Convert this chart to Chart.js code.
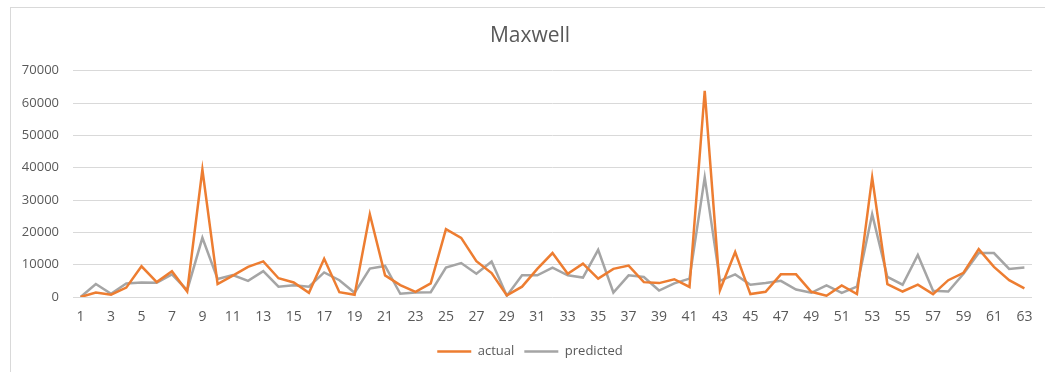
<!DOCTYPE html>
<html>
<head>
<meta charset="utf-8">
<script src="https://cdn.jsdelivr.net/npm/chart.js@4"></script>
<style>
  html, body { margin: 0; padding: 0; background: #fff; overflow: hidden; }
  #wrap { position: relative; width: 1045px; height: 372px; overflow: hidden; }
  #cadre { position: absolute; left: 10px; top: 7px; width: 1100px; height: 400px; border: 1px solid #d9d9d9; box-sizing: border-box; }
  #grafico { position: absolute; left: 0; top: 0; }
</style>
</head>
<body>
<div id="wrap">
  <div id="cadre"></div>
  <canvas id="grafico" width="1060" height="372"></canvas>
</div>
<script>
// categorias 1..63
var categorias = ['1','2','3','4','5','6','7','8','9','10','11','12','13','14','15','16','17','18','19','20','21',
    '22','23','24','25','26','27','28','29','30','31','32','33','34','35','36','37','38','39','40','41','42',
    '43','44','45','46','47','48','49','50','51','52','53','54','55','56','57','58','59','60','61','62','63'];

var actual = [0, 1400, 700, 2900, 9500, 4600, 8000, 1700, 39400, 4000, 6600, 9300, 11000, 5800, 4500, 1300, 11800, 1500, 700, 25600, 6700,
    3700, 1600, 4200, 21000, 18300, 11100, 7400, 500, 3200, 8700, 13600, 7200, 10300, 5700, 8700, 9700, 4600, 4300, 5500, 3100, 63800,
    2100, 13900, 900, 1600, 7000, 7000, 1600, 400, 3600, 900, 37000, 4000, 1700, 3800, 900, 5200, 7500, 14800, 9300, 5200, 2700];

var predicted = [0, 4000, 1000, 4200, 4500, 4400, 7000, 2100, 18300, 5600, 6800, 5000, 8000, 3200, 3600, 3200, 7600, 5200, 1300, 8800, 9600,
    1000, 1400, 1500, 9100, 10500, 7200, 11000, 400, 6700, 6700, 9100, 6700, 6000, 14600, 1400, 6700, 6200, 2000, 4200, 5700, 37000,
    5000, 7000, 3800, 4300, 5000, 2300, 1300, 3600, 1300, 3200, 25600, 6200, 3800, 13000, 1900, 1700, 7200, 13600, 13600, 8700, 9100];

var yTicks = [0, 10000, 20000, 30000, 40000, 50000, 60000, 70000];

var cinza = '#595959';
var fonte = '"Open Sans", "Noto Sans", sans-serif';

document.addEventListener('DOMContentLoaded', function () {
    var ctx = document.getElementById('grafico').getContext('2d');

    new Chart(ctx, {
        type: 'line',
        data: {
            labels: categorias,
            datasets: [{
                label: 'actual',
                data: actual,
                borderColor: '#ed7d31',
                backgroundColor: '#ed7d31',
                borderWidth: 2.5,
                pointRadius: 0,
                tension: 0
            }, {
                label: 'predicted',
                data: predicted,
                borderColor: '#a5a5a5',
                backgroundColor: '#a5a5a5',
                borderWidth: 2.5,
                pointRadius: 0,
                tension: 0
            }]
        },
        options: {
            responsive: false,
            animation: false,
            layout: { padding: { left: 0, right: 0, top: 0, bottom: 4 } },
            plugins: {
                title: {
                    display: true,
                    text: 'Maxwell',
                    color: cinza,
                    font: { family: fonte, size: 21, weight: 'normal' },
                    padding: { top: 23, bottom: 22.5 }
                },
                legend: {
                    position: 'bottom',
                    labels: {
                        color: cinza,
                        font: { family: fonte, size: 13 },
                        usePointStyle: true,
                        pointStyle: 'line',
                        pointStyleWidth: 34,
                        padding: 10
                    }
                },
                tooltip: { enabled: false }
            },
            scales: {
                x: {
                    offset: true,
                    grid: { display: false },
                    border: { display: false },
                    ticks: {
                        color: cinza,
                        font: { family: fonte, size: 14 },
                        autoSkip: false,
                        maxRotation: 0,
                        padding: 4,
                        callback: function (v, i) { return i % 2 === 0 ? this.getLabelForValue(v) : ''; }
                    },
                    afterFit: function (s) { s.height = 38; }
                },
                y: {
                    min: 0,
                    max: 70000,
                    afterBuildTicks: function (s) { s.ticks = yTicks.map(function (v) { return { value: v }; }); },
                    grid: { color: '#d9d9d9', lineWidth: 1, drawTicks: false },
                    border: { display: false },
                    ticks: {
                        color: cinza,
                        font: { family: fonte, size: 13 },
                        padding: 14,
                        callback: function (v) { return String(v); }
                    },
                    afterFit: function (s) { s.width = 73; }
                },
                // eixo vazio à direita, só para reservar espaço
                espaco: {
                    type: 'linear',
                    position: 'right',
                    min: 0,
                    max: 1,
                    grid: { display: false },
                    border: { display: false },
                    ticks: { display: false },
                    afterFit: function (s) { s.width = 28; }
                }
            }
        }
    });
});
</script>
</body>
</html>
